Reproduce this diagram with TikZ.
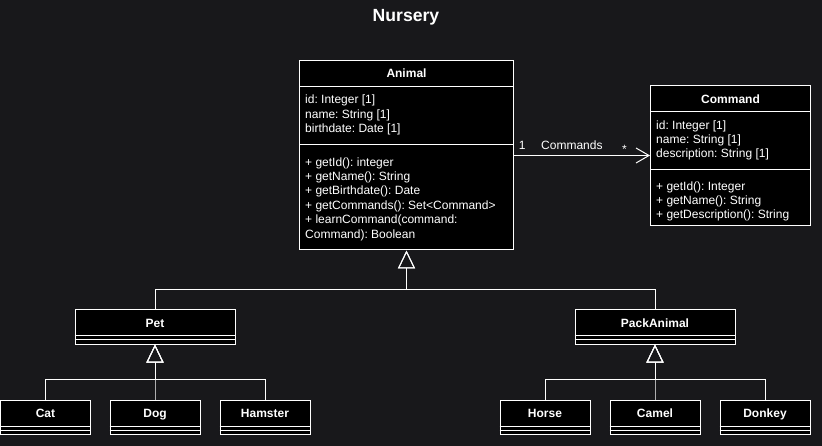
\documentclass[tikz,border=0pt]{standalone}
\usepackage{fontspec}
\setmainfont{Liberation Sans}
\usetikzlibrary{arrows.meta}
\definecolor{bgc}{RGB}{24,24,27}
\frenchspacing
\tikzset{
  cls/.style={draw=white, fill=black, line width=1pt, inner sep=0pt, rectangle},
  hdr/.style={text=white, font=\bfseries\fontsize{12}{14.4}\selectfont, inner sep=0pt, anchor=base},
  txt/.style={text=white, font=\fontsize{12}{14.4}\selectfont, inner sep=0pt, align=left, anchor=north west},
  lbl/.style={text=white, font=\fontsize{12}{14.4}\selectfont, inner sep=0pt, anchor=base west},
  sep/.style={draw=white, line width=1pt},
  gen/.style={draw=white, line width=1pt, -{Triangle[open, length=18pt, width=17pt]}},
  assoc/.style={draw=white, line width=1pt, -{Straight Barb[length=13pt, width=15pt]}}
}
\newcommand{\st}{\rule{0pt}{12pt}}
\begin{document}
\begin{tikzpicture}[x=1pt, y=-1pt]
\useasboundingbox (0,0) rectangle (822,446);
\fill[bgc] (0,0) rectangle (822,446);

% title
\node[text=white, font=\bfseries\fontsize{17.6}{20}\selectfont, inner sep=0pt, anchor=base] (title) at (406,22) {Nursery};

% Animal
\node[cls, minimum width=214pt, minimum height=189pt] (animal) at (406.5,155.5) {};
\draw[sep] (animal.west |- 0,86.5) -- (animal.east |- 0,86.5);
\draw[sep] (animal.west |- 0,145) -- (animal.east |- 0,145);
\node[hdr] (animalh) at (406.5,78) {Animal};
\node[txt] (animala) at (305,91.5) {\st id: Integer [1]\\name: String [1]\\birthdate: Date [1]};
\node[txt] (animalm) at (305,154) {\st + getId(): integer\\+ getName(): String\\+ getBirthdate(): Date\\+ getCommands(): Set<Command>\\+ learnCommand(command:\\Command): Boolean};

% Command
\node[cls, minimum width=160pt, minimum height=140pt] (command) at (730.5,156) {};
\draw[sep] (command.west |- 0,112) -- (command.east |- 0,112);
\draw[sep] (command.west |- 0,169.5) -- (command.east |- 0,169.5);
\node[hdr] (commandh) at (730.5,103.3) {Command};
\node[txt] (commanda) at (656,117) {\st id: Integer [1]\\name: String [1]\\description: String [1]};
\node[txt] (commandm) at (656,178) {\st + getId(): Integer\\+ getName(): String\\+ getDescription(): String};

% Pet and PackAnimal
\node[cls, minimum width=160pt, minimum height=34pt] (pet) at (155,327) {};
\node[cls, minimum width=160pt, minimum height=34pt] (pack) at (655,327) {};
\foreach \n in {pet,pack}{
  \draw[sep] (\n.west |- 0,336) -- (\n.east |- 0,336);
  \draw[sep] (\n.west |- 0,340) -- (\n.east |- 0,340);
}
\node[hdr] (peth) at (155,327.3) {Pet};
\node[hdr] (packh) at (655,327.3) {PackAnimal};

% leaves
\node[cls, minimum width=90pt, minimum height=34pt] (cat) at (45.5,417) {};
\node[cls, minimum width=90pt, minimum height=34pt] (dog) at (155,417) {};
\node[cls, minimum width=90pt, minimum height=34pt] (hamster) at (265,417) {};
\node[cls, minimum width=90pt, minimum height=34pt] (horse) at (545,417) {};
\node[cls, minimum width=90pt, minimum height=34pt] (camel) at (655,417) {};
\node[cls, minimum width=90pt, minimum height=34pt] (donkey) at (765,417) {};
\foreach \n in {cat,dog,hamster,horse,camel,donkey}{
  \draw[sep] (\n.west |- 0,426) -- (\n.east |- 0,426);
  \draw[sep] (\n.west |- 0,430) -- (\n.east |- 0,430);
}
\node[hdr] (cath) at (45.5,417.3) {Cat};
\node[hdr] (dogh) at (155,417.3) {Dog};
\node[hdr] (hamsterh) at (265,417.3) {Hamster};
\node[hdr] (horseh) at (545,417.3) {Horse};
\node[hdr] (camelh) at (655,417.3) {Camel};
\node[hdr] (donkeyh) at (765,417.3) {Donkey};

% generalizations
\draw[gen] (pet.north) -- ++(0,-20) -| (animal.south);
\draw[gen] (pack.north) -- ++(0,-20) -| (animal.south);
\foreach \n in {cat,dog,hamster}{
  \draw[gen] (\n.north) -- ++(0,-20) -| (pet.south);
}
\foreach \n in {horse,camel,donkey}{
  \draw[gen] (\n.north) -- ++(0,-20) -| (pack.south);
}

% association
\draw[assoc] (animal.east) -- (animal.east -| command.west);
\node[lbl] (mult1) at (518.7,150) {1};
\node[lbl] (assocname) at (541,150) {Commands};
\node[lbl] (multn) at (622,153.5) {*};
\end{tikzpicture}
\end{document}
